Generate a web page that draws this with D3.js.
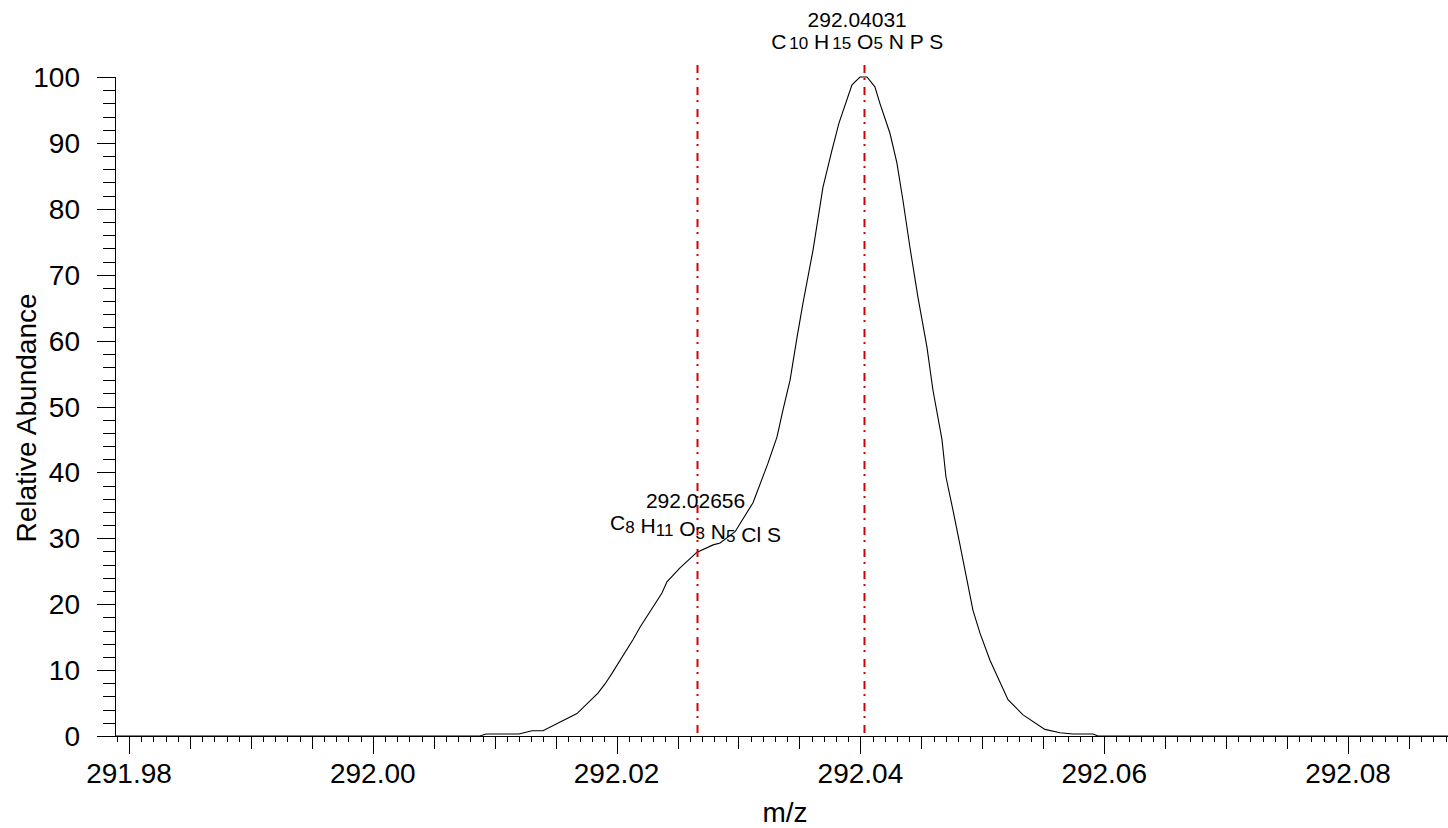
<!DOCTYPE html>
<html>
<head>
<meta charset="utf-8">
<script src="https://cdnjs.cloudflare.com/ajax/libs/d3/7.8.5/d3.min.js"></script>
<style>
  html, body { margin: 0; padding: 0; background: #fff; }
  svg { display: block; font-family: "Liberation Sans", Arial, sans-serif; }
</style>
</head>
<body>
<div id="main"></div>
<script>
// profile spectrum
var mz = [291.97893, 292.00879, 292.00929, 292.01199, 292.01306, 292.01396, 292.01675,
  292.01847, 292.01905, 292.01962, 292.02134, 292.02192, 292.02372, 292.02413, 292.02520,
  292.02660, 292.02792, 292.02849, 292.02972, 292.03119, 292.03242, 292.03316, 292.03365,
  292.03423, 292.03480, 292.03529, 292.03611, 292.03693, 292.03767, 292.03824, 292.03931,
  292.03997, 292.04054, 292.04119, 292.04160, 292.04242, 292.04299, 292.04349, 292.04406,
  292.04472, 292.04546, 292.04595, 292.04669, 292.04702, 292.04759, 292.04817, 292.04874,
  292.04923, 292.04981, 292.05063, 292.05211, 292.05334, 292.05514, 292.05637, 292.05744,
  292.05908, 292.05949, 292.08820];
var abundance = [0, 0, 0.3, 0.3, 0.8, 0.8, 3.4,
  6.5, 7.9, 9.5, 14.6, 16.5, 21.7, 23.4, 25.5,
  27.9, 29.0, 29.3, 31.0, 35.4, 41.4, 45.4, 49.5,
  54.0, 60.5, 65.7, 73.7, 83.3, 88.9, 93.0, 98.8,
  100, 100, 98.5, 96.0, 91.5, 87.0, 81.3, 74.2,
  66.6, 59.0, 52.5, 45.0, 39.3, 34.3, 29.0, 23.7,
  19.1, 15.6, 11.5, 5.5, 3.2, 1.0, 0.5, 0.3,
  0.3, 0, 0];

var peakMz = [292.02656, 292.04031];
var peakFormula = ["C8 H11 O3 N5 Cl S", "C10 H15 O5 N P S"];

var xLabels = [291.98, 292.00, 292.02, 292.04, 292.06, 292.08];
var yLabels = [0, 10, 20, 30, 40, 50, 60, 70, 80, 90, 100];

var width = 1448, height = 828;

var x = d3.scaleLinear().domain([291.98, 292.08]).range([129, 1348]);
var y = d3.scaleLinear().domain([0, 100]).range([736, 77]);
var x0 = 116, x1 = 1446;

var svg = d3.select("#main").append("svg")
  .attr("width", width)
  .attr("height", height);

// x axis ticks: 0.001 minor, 0.005 medium, 0.02 major
var xt = d3.range(Math.ceil(x.invert(x0) * 1000), Math.floor(x.invert(x1) * 1000) + 1);
var gx = svg.append("g");
gx.append("line")
  .attr("x1", x0).attr("x2", width).attr("y1", 736.5).attr("y2", 736.5)
  .attr("stroke", "#000");
gx.selectAll("line.t").data(xt).enter().append("line")
  .attr("class", "t")
  .attr("x1", function(d) { return Math.round(x(d / 1000)) + 0.5; })
  .attr("x2", function(d) { return Math.round(x(d / 1000)) + 0.5; })
  .attr("y1", 736)
  .attr("y2", function(d) {
    if (d % 20 == 0) return 754;
    if (d % 5 == 0) return 749;
    return 742;
  })
  .attr("stroke", "#000");
gx.selectAll("text").data(xLabels).enter().append("text")
  .attr("x", function(d) { return x(d); })
  .attr("y", 783)
  .attr("text-anchor", "middle")
  .attr("font-size", 28)
  .text(function(d) { return d.toFixed(2); });

// y axis ticks every 2, labels every 10
var yt = d3.range(0, 101, 2);
var gy = svg.append("g");
gy.append("line")
  .attr("x1", 115.5).attr("x2", 115.5).attr("y1", y(100)).attr("y2", 737)
  .attr("stroke", "#000");
gy.selectAll("line.t").data(yt).enter().append("line")
  .attr("class", "t")
  .attr("x1", function(d) { return d % 10 == 0 ? 97 : 103; })
  .attr("x2", 115)
  .attr("y1", function(d) { return Math.round(y(d)) + 0.5; })
  .attr("y2", function(d) { return Math.round(y(d)) + 0.5; })
  .attr("stroke", "#000");
gy.selectAll("text").data(yLabels).enter().append("text")
  .attr("x", 80)
  .attr("y", function(d) { return y(d) + 10; })
  .attr("text-anchor", "end")
  .attr("font-size", 28)
  .text(function(d) { return d; });

svg.append("text")
  .attr("transform", "translate(36,418) rotate(-90)")
  .attr("text-anchor", "middle")
  .attr("font-size", 28)
  .text("Relative Abundance");

svg.append("text")
  .attr("x", 785)
  .attr("y", 822)
  .attr("text-anchor", "middle")
  .attr("font-size", 28)
  .text("m/z");

// spectrum
var line = d3.line()
  .x(function(d, i) { return x(mz[i]); })
  .y(function(d) { return y(d); });

svg.append("path")
  .datum(abundance)
  .attr("d", line)
  .attr("fill", "none")
  .attr("stroke", "#000")
  .attr("stroke-width", 1.1);

// peak markers
svg.selectAll("line.peak").data(peakMz).enter().append("line")
  .attr("class", "peak")
  .attr("x1", function(d) { return Math.round(x(d)) + 0.5; })
  .attr("x2", function(d) { return Math.round(x(d)) + 0.5; })
  .attr("y1", 65)
  .attr("y2", 736)
  .attr("stroke", "#d40000")
  .attr("stroke-width", 2)
  .attr("stroke-dasharray", "8,5,2,7");

var labelY = [508, 27];
var labelDx = [-1, -7];
var subShift = [3, 0];

peakMz.forEach(function(m, i) {
  var cx = x(m) + labelDx[i];
  svg.append("text")
    .attr("x", cx)
    .attr("y", labelY[i])
    .attr("text-anchor", "middle")
    .attr("font-size", 21)
    .text(m.toFixed(5));

  var t = svg.append("text")
    .attr("x", cx)
    .attr("y", labelY[i] + 22)
    .attr("text-anchor", "middle")
    .attr("font-size", 21);
  peakFormula[i].split(" ").forEach(function(part, k) {
    var p = part.match(/^([A-Za-z]+)(\d*)$/);
    t.append("tspan").text((k > 0 ? " " : "") + p[1]);
    if (p[2]) {
      t.append("tspan")
        .attr("font-size", 17)
        .attr("dx", i == 1 && p[2].length > 1 ? 3 : 0)
        .attr("dy", subShift[i])
        .text(p[2]);
      if (subShift[i]) t.append("tspan").attr("dy", -subShift[i]).text("");
    }
  });
});
</script>
</body>
</html>
